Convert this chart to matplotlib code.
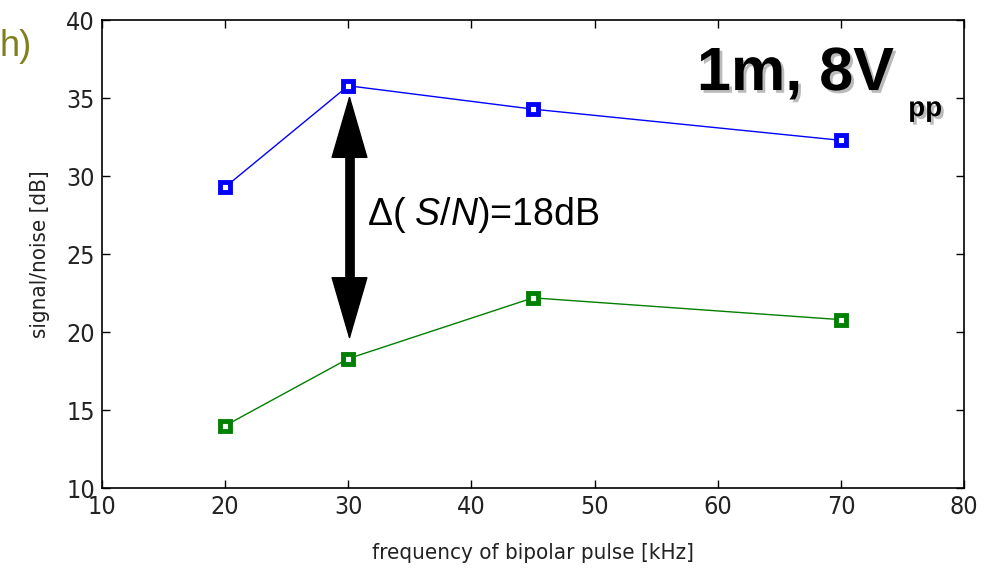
import numpy as np
import matplotlib
matplotlib.use("Agg")
import matplotlib.pyplot as plt
import matplotlib.patheffects as pe

# data
freq = [20, 30, 45, 70]
snr_blue = [29.3, 35.8, 34.3, 32.3]
snr_green = [14.0, 18.3, 22.2, 20.8]
xticks = [10, 20, 30, 40, 50, 60, 70, 80]
yticks = [10, 15, 20, 25, 30, 35, 40]

plt.rcParams["mathtext.fontset"] = "custom"
plt.rcParams["mathtext.rm"] = "Liberation Sans"
plt.rcParams["mathtext.it"] = "Liberation Sans:italic"

fig = plt.figure(figsize=(9.89, 5.79), dpi=100)
ax = fig.add_axes([0.103, 0.157, 0.872, 0.808])

for y, c in [(snr_blue, "#0000ff"), (snr_green, "#008000")]:
    ax.plot(freq, y, color=c, lw=1.0, marker="s", ms=7,
            mfc="white", mec=c, mew=3.5)

ax.set_xlim(10, 80)
ax.set_ylim(10, 40)
ax.set_xticks(xticks)
ax.set_yticks(yticks)
ax.tick_params(direction="in", length=6, width=1, labelsize=18, top=True, right=True, pad=5)
for lab in ax.get_xticklabels() + ax.get_yticklabels():
    lab.set_fontstretch("condensed")
    lab.set_color("#222222")
for s in ax.spines.values():
    s.set_linewidth(1.2)

ax.set_xlabel("frequency of bipolar pulse [kHz]", fontsize=16, fontstretch="condensed",
              labelpad=17, color="#222222")
ax.set_ylabel("signal/noise [dB]", fontsize=16, fontstretch="condensed",
              labelpad=12, color="#222222")

# double arrow between the curves: thin-outlined heads + thick shaft
arrow_x = 30.1
top_tip, bot_tip = 35.2, 19.5
ax.annotate("", xy=(arrow_x, bot_tip), xytext=(arrow_x, top_tip),
            arrowprops=dict(arrowstyle="<|-|>,head_length=4.3,head_width=1.25",
                            mutation_scale=10, color="black", lw=1,
                            shrinkA=0, shrinkB=0))
ax.vlines(arrow_x, bot_tip + 2, top_tip - 2, color="black", lw=7)

ax.text(31.5, 27.5, r"$\Delta$( $S/N$)=18dB", fontsize=27, family="Liberation Sans",
        va="center", ha="left")

shadow = [pe.SimplePatchShadow(offset=(2, -2), shadow_rgbFace="#aaaaaa", alpha=0.8), pe.Normal()]
ax.text(0.69, 0.884, "1m, 8V", transform=ax.transAxes, fontsize=44, fontweight="bold",
        family="Liberation Sans", va="center", ha="left", path_effects=shadow)
ax.text(0.935, 0.81, "pp", transform=ax.transAxes, fontsize=20, fontweight="bold",
        family="Liberation Sans", va="center", ha="left", path_effects=shadow)

fig.text(0.0, 0.92, "h)", fontsize=26, color="#7f7f1e", family="Liberation Sans",
         va="center", ha="left")

fig.savefig("out.png", dpi=100)
